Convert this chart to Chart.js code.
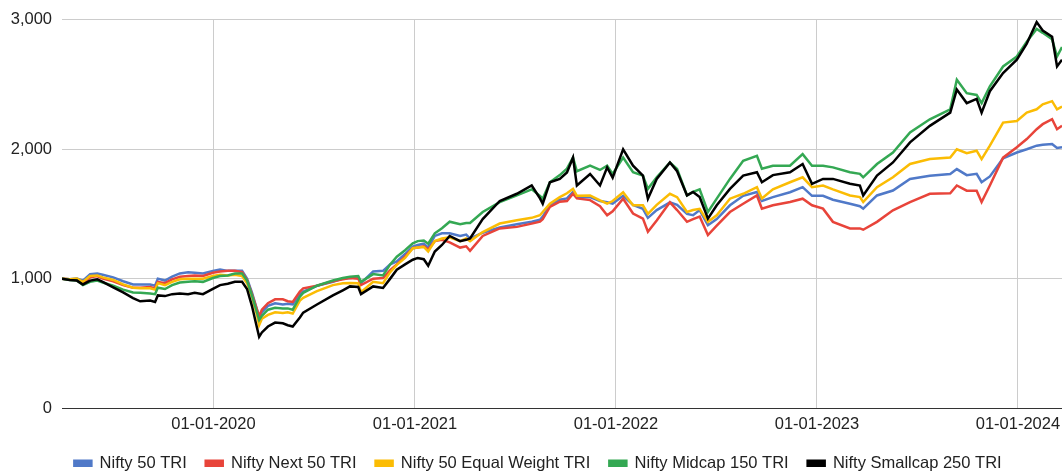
<!DOCTYPE html>
<html><head><meta charset="utf-8">
<script src="https://cdn.jsdelivr.net/npm/chart.js@4.4.1/dist/chart.umd.min.js"></script>
<style>html,body{margin:0;padding:0;background:#fff;}#wrap{width:1062px;height:474px;}</style>
</head><body><div id="wrap"><canvas id="c" width="1062" height="474"></canvas></div>
<script>
const dates = [
'2019-04-01','2019-04-15','2019-04-28','2019-05-09','2019-05-22','2019-06-04','2019-06-14','2019-07-03','2019-07-21','2019-08-08','2019-08-21','2019-09-08','2019-09-17','2019-09-22','2019-10-05','2019-10-18','2019-11-01','2019-11-16','2019-11-28','2019-12-13','2019-12-31',
'2020-01-13','2020-01-27','2020-02-09','2020-02-22','2020-03-02','2020-03-11','2020-03-20','2020-03-24','2020-03-29','2020-04-09','2020-04-22','2020-05-06','2020-05-15','2020-05-24','2020-06-06','2020-06-12','2020-07-07','2020-08-05','2020-08-23','2020-09-05','2020-09-20','2020-09-25','2020-10-17','2020-11-04','2020-11-17','2020-11-29','2020-12-14','2020-12-28',
'2021-01-06','2021-01-17','2021-01-25','2021-02-06','2021-02-19','2021-03-05','2021-03-24','2021-04-04','2021-04-11','2021-05-04','2021-06-04','2021-07-05','2021-08-01','2021-08-16','2021-08-21','2021-09-03','2021-09-21','2021-10-04','2021-10-15','2021-10-22','2021-11-15','2021-12-03','2021-12-16','2021-12-26',
'2022-01-14','2022-02-01','2022-02-19','2022-02-28','2022-03-16','2022-04-09','2022-04-22','2022-05-10','2022-05-21','2022-06-02','2022-06-17','2022-07-03','2022-07-27','2022-08-20','2022-09-14','2022-09-23','2022-10-13','2022-11-13','2022-12-06','2022-12-23',
'2023-01-12','2023-01-30','2023-03-02','2023-03-20','2023-03-26','2023-04-20','2023-05-19','2023-06-19','2023-07-25','2023-08-31','2023-09-12','2023-09-30','2023-10-18','2023-10-27','2023-11-11','2023-12-05','2023-12-30',
'2024-01-17','2024-02-04','2024-02-15','2024-03-03','2024-03-12','2024-03-21'
];
const nifty50 = [
1000,995,1000,985,1035,1040,1030,1010,980,955,955,955,945,1000,985,1015,1040,1050,1045,1040,1060,
1070,1060,1060,1060,1000,892,763,700,740,790,810,800,805,800,880,900,945,975,1000,1005,1010,965,1056,1060,1110,1133,1190,1247,
1260,1270,1240,1330,1350,1350,1330,1340,1310,1355,1395,1420,1440,1455,1480,1570,1610,1620,1670,1630,1630,1600,1590,1580,
1640,1570,1540,1470,1530,1590,1570,1500,1490,1530,1413,1460,1567,1640,1670,1600,1630,1668,1707,1640,
1640,1610,1579,1560,1541,1643,1681,1771,1796,1809,1847,1800,1810,1745,1790,1930,1975,
2000,2028,2035,2041,2010,2015
];
const niftyNext50 = [
1000,995,990,960,1010,1020,1000,980,950,930,930,935,925,975,965,995,1015,1020,1025,1020,1045,
1055,1060,1060,1050,990,880,760,710,760,810,840,840,825,820,900,925,945,980,995,1005,1000,950,1000,1005,1065,1110,1170,1235,
1240,1250,1225,1290,1300,1280,1240,1250,1215,1330,1388,1400,1425,1440,1460,1554,1595,1600,1656,1620,1607,1560,1490,1520,
1618,1503,1464,1362,1450,1590,1530,1439,1460,1480,1337,1410,1515,1579,1643,1540,1567,1592,1618,1567,
1541,1439,1388,1388,1378,1439,1528,1592,1656,1660,1720,1680,1680,1592,1720,1935,2015,
2079,2155,2194,2232,2155,2181
];
const nifty50EqualWeight = [
1000,995,1000,975,1020,1025,1010,990,955,930,925,925,915,965,950,975,995,1000,1000,1000,1020,
1030,1025,1030,1020,965,860,720,640,690,720,740,735,740,730,830,852,903,950,965,967,965,895,975,965,1050,1107,1160,1235,
1240,1245,1210,1290,1310,1320,1290,1310,1290,1360,1426,1452,1470,1490,1515,1579,1630,1660,1694,1640,1643,1605,1580,1600,
1668,1567,1567,1500,1570,1656,1630,1515,1530,1540,1439,1490,1618,1656,1707,1620,1690,1745,1783,1707,
1720,1690,1643,1630,1592,1707,1783,1886,1924,1936,2000,1970,1989,1924,2028,2206,2219,
2283,2309,2347,2372,2309,2330
];
const midcap150 = [
1000,990,985,950,975,985,970,945,915,893,890,885,880,930,920,950,970,975,980,975,1005,
1020,1025,1040,1040,985,870,740,680,712,760,775,770,770,760,860,890,945,985,1005,1015,1020,975,1035,1025,1110,1170,1220,1273,
1290,1295,1270,1350,1390,1440,1420,1430,1430,1515,1592,1643,1690,1640,1618,1745,1800,1850,1936,1830,1873,1840,1873,1810,
1936,1822,1796,1694,1783,1898,1847,1643,1670,1690,1515,1618,1771,1911,1949,1850,1873,1873,1962,1873,
1873,1860,1822,1810,1783,1886,1975,2130,2232,2309,2537,2434,2420,2357,2487,2640,2717,
2831,2930,2900,2850,2717,2790
];
const smallcap250 = [
1000,990,985,955,985,995,975,932,893,850,825,830,820,870,865,880,885,880,890,880,920,
950,960,975,975,920,788,622,550,584,630,660,655,640,630,700,737,800,870,910,940,935,880,940,928,1000,1069,1110,1146,
1160,1150,1100,1210,1260,1330,1290,1300,1310,1460,1600,1656,1720,1620,1579,1745,1771,1820,1936,1720,1809,1720,1860,1780,
2000,1873,1796,1618,1771,1898,1830,1643,1670,1630,1464,1567,1694,1796,1822,1745,1800,1822,1886,1733,
1771,1771,1733,1720,1643,1796,1898,2053,2181,2283,2462,2357,2390,2283,2449,2589,2692,
2817,2983,2918,2870,2640,2692
];
const seriesNames = ['Nifty 50 TRI','Nifty Next 50 TRI','Nifty 50 Equal Weight TRI','Nifty Midcap 150 TRI','Nifty Smallcap 250 TRI'];
const seriesColors = ['#5079c8','#e8443a','#fbbc04','#34a853','#000000'];
const xTickDates = ['2020-01-01','2021-01-01','2022-01-01','2023-01-01','2024-01-01'];
const yTicks = [0,1000,2000,3000];

const toMs = s => Date.parse(s + 'T00:00:00Z');
const pts = vals => vals.map((v, i) => ({x: toMs(dates[i]), y: v}));
const allSeries = [nifty50, niftyNext50, nifty50EqualWeight, midcap150, smallcap250];
const FONT = {family: "'Liberation Sans', Arial, sans-serif", size: 16.5};
const pad2 = n => String(n).padStart(2, '0');
const fmtDate = ms => { const d = new Date(ms); return pad2(d.getUTCDate()) + '-' + pad2(d.getUTCMonth() + 1) + '-' + d.getUTCFullYear(); };

const shiftLegend = {
  id: 'shiftLegend',
  afterLayout(chart) {
    if (chart.legend) {
      chart.legend.left += 7; chart.legend.right += 7;
      chart.legend.top += 2; chart.legend.bottom += 2;
    }
  }
};

new Chart(document.getElementById('c'), {
  type: 'line',
  plugins: [shiftLegend],
  data: {
    datasets: allSeries.map((s, i) => ({
      label: seriesNames[i],
      data: pts(s),
      borderColor: seriesColors[i],
      backgroundColor: seriesColors[i],
      borderWidth: 2.5,
      pointRadius: 0,
      tension: 0,
      fill: false,
      order: allSeries.length - 1 - i
    }))
  },
  options: {
    responsive: false,
    animation: false,
    layout: {padding: {top: 16, right: 0, bottom: 0, left: 0}},
    plugins: {
      tooltip: {enabled: false},
      legend: {
        position: 'bottom',
        maxHeight: 40,
        labels: {
          boxWidth: 17, boxHeight: 5, padding: 19, color: '#222', font: FONT,
          sort: (a, b) => a.datasetIndex - b.datasetIndex
        }
      }
    },
    scales: {
      x: {
        type: 'linear',
        min: toMs(dates[0]),
        max: toMs(dates[dates.length - 1]),
        afterBuildTicks: s => { s.ticks = xTickDates.map(d => ({value: toMs(d)})); },
        ticks: {autoSkip: false, maxRotation: 0, padding: 7, color: '#222', font: FONT, callback: v => fmtDate(v)},
        grid: {color: '#cccccc', drawTicks: false, lineWidth: 1},
        border: {display: false},
        afterFit: s => { s.paddingLeft = 0; s.paddingRight = 0; s.height = 26; }
      },
      y: {
        min: 0, max: 3000,
        afterBuildTicks: s => { s.ticks = yTicks.map(v => ({value: v})); },
        ticks: {padding: 10, color: '#222', font: FONT, callback: v => Number(v).toLocaleString('en-US')},
        grid: {color: c => (c.tick && c.tick.value === 0) ? '#333333' : '#cccccc', drawTicks: false, lineWidth: 1},
        border: {display: false},
        afterFit: s => { s.width = 62; }
      }
    }
  }
});
</script>
</body></html>
